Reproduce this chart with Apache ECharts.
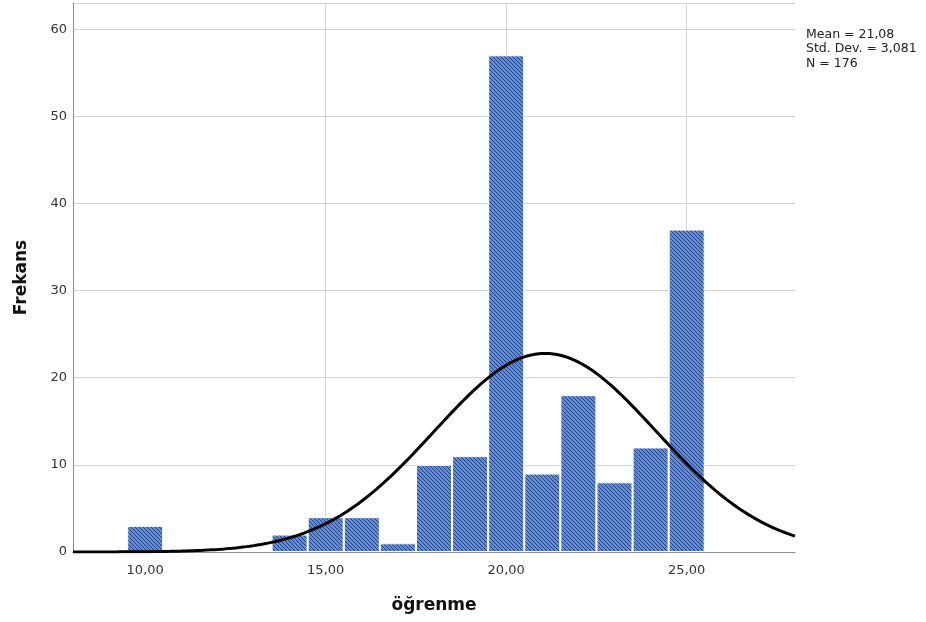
<!DOCTYPE html>
<html>
<head>
<meta charset="utf-8">
<title>öğrenme histogram</title>
<script src="https://cdn.jsdelivr.net/npm/echarts@6/dist/echarts.min.js"></script>
<style>
  html, body { margin: 0; padding: 0; background: #fff; }
  #chart { width: 926px; height: 622px; }
</style>
</head>
<body>
<div id="chart"></div>
<script>
// Score bins (bin centres, width 1) and their frequencies
const binCenters = [10, 14, 15, 16, 17, 18, 19, 20, 21, 22, 23, 24, 25];
const frequencies = [3, 2, 4, 4, 1, 10, 11, 57, 9, 18, 8, 12, 37];
const xTickValues = [10, 15, 20, 25];
const xGridValues = [15, 20, 25];

// Summary statistics shown in the side note
const statMean = 21.08;
const statSd = 3.081;
const statN = 176;
const binWidth = 1;
const statLines = ['Mean = 21,08', 'Std. Dev. = 3,081', 'N = 176'];

// Fitted normal curve, scaled to counts per bin
const curveX = [];
for (let i = 0; i <= 200; i++) curveX.push(8 + i * 0.1);
const curveData = curveX.map(x => {
  const z = (x - statMean) / statSd;
  const y = statN * binWidth * Math.exp(-0.5 * z * z) / (statSd * Math.sqrt(2 * Math.PI));
  return [x, y];
});

// Diagonal hatch tile for the bars (lines running top-left to bottom-right)
function hatchTile() {
  const s = 4;
  const c = document.createElement('canvas');
  c.width = s; c.height = s;
  const g = c.getContext('2d');
  g.fillStyle = '#5a8ce0';
  g.fillRect(0, 0, s, s);
  g.strokeStyle = '#24396f';
  g.lineWidth = 0.9;
  g.beginPath();
  g.moveTo(-1, -1); g.lineTo(s + 1, s + 1);
  g.moveTo(-1, s - 1); g.lineTo(1, s + 1);
  g.moveTo(s - 1, -1); g.lineTo(s + 1, 1);
  g.stroke();
  return c;
}

const chart = echarts.init(document.getElementById('chart'), null, { renderer: 'canvas' });
const font = 'DejaVu Sans';

chart.setOption({
  animation: false,
  backgroundColor: '#ffffff',
  grid: { left: 73, right: 131, top: 3, bottom: 70, containLabel: false },
  xAxis: {
    type: 'value',
    min: 8,
    max: 28,
    name: 'öğrenme',
    nameLocation: 'middle',
    nameGap: 45,
    nameTextStyle: { fontFamily: font, fontSize: 17, fontWeight: 'bold', color: '#111' },
    axisLine: { show: true, onZero: false, lineStyle: { color: '#8a8a8a', width: 1 } },
    axisTick: { show: false },
    splitLine: { show: false },
    axisLabel: {
      customValues: xTickValues,
      formatter: v => v.toFixed(2).replace('.', ','),
      fontFamily: font,
      fontSize: 13,
      color: '#333',
      margin: 12
    }
  },
  yAxis: {
    type: 'value',
    min: 0,
    max: 63,
    interval: 10,
    name: 'Frekans',
    nameLocation: 'middle',
    nameGap: 43,
    nameTextStyle: { fontFamily: font, fontSize: 17, fontWeight: 'bold', color: '#111' },
    axisLine: { show: true, lineStyle: { color: '#8a8a8a', width: 1 } },
    axisTick: { show: false },
    splitLine: { show: true, lineStyle: { color: '#d2d2d2', width: 1 } },
    axisLabel: {
      fontFamily: font,
      fontSize: 13,
      color: '#333',
      margin: 6,
      showMaxLabel: false
    }
  },
  graphic: [{
    type: 'text',
    left: 806,
    top: 27,
    style: {
      text: statLines.join('\n'),
      fontFamily: font,
      fontSize: 12.5,
      lineHeight: 14.5,
      fill: '#222'
    }
  }],
  series: [
    {
      // vertical reference lines at the labelled scores, kept behind the bars
      type: 'scatter',
      data: [],
      silent: true,
      z: 1,
      markLine: {
        z: 1,
        silent: true,
        symbol: 'none',
        label: { show: false },
        lineStyle: { color: '#d2d2d2', width: 1, type: 'solid' },
        data: xGridValues.map(v => ({ xAxis: v }))
      }
    },
    {
      type: 'bar',
      data: binCenters.map((c, i) => [c, frequencies[i]]),
      barWidth: 36,
      itemStyle: {
        color: { image: hatchTile(), repeat: 'repeat' },
        borderColor: '#ffffff',
        borderWidth: 1
      },
      z: 6
    },
    {
      type: 'line',
      data: curveData,
      showSymbol: false,
      smooth: false,
      lineStyle: { color: '#000', width: 3 },
      z: 8
    }
  ]
});
</script>
</body>
</html>
